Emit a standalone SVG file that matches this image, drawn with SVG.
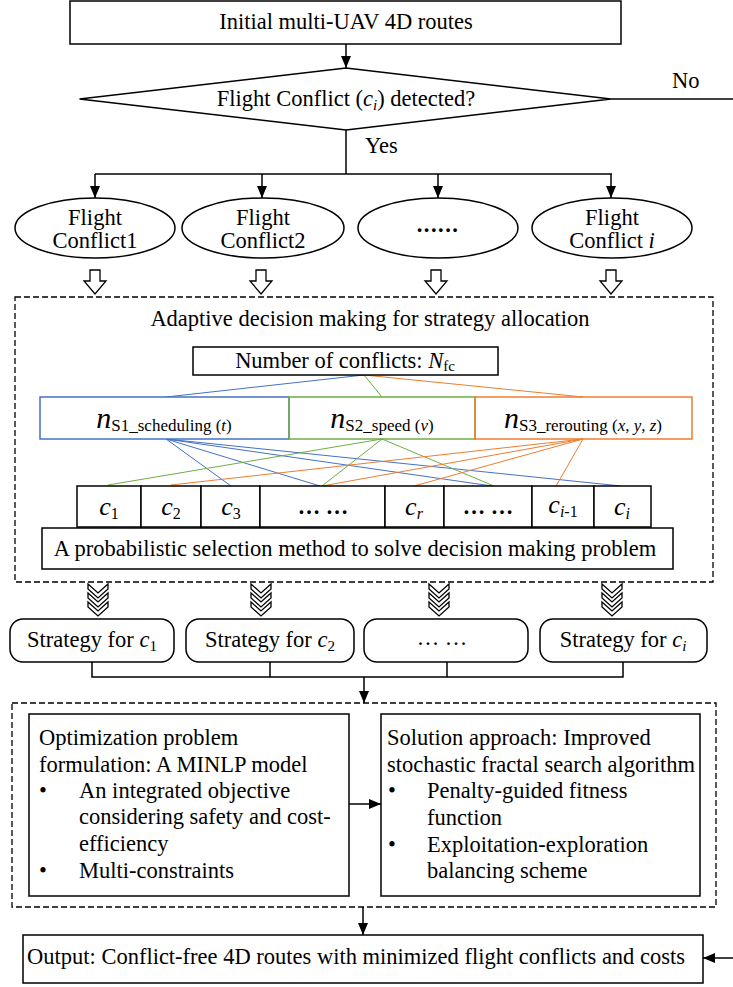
<svg xmlns="http://www.w3.org/2000/svg" width="733" height="987" viewBox="0 0 733 987">
<defs>
<style>
.t{font-family:"Liberation Serif","Times New Roman",serif;font-size:22.5px;fill:#000}
.box{fill:#fff;stroke:#000;stroke-width:1.5}
.ln{fill:none;stroke:#000;stroke-width:1.5}
.dash{fill:none;stroke:#000;stroke-width:1.3;stroke-dasharray:6 3}
.hol{fill:#fff;stroke:#000;stroke-width:1.3;stroke-linejoin:miter}
.b{stroke:#4472C4;stroke-width:1;fill:none}
.g{stroke:#70AD47;stroke-width:1;fill:none}
.o{stroke:#ED7D31;stroke-width:1;fill:none}
.i{font-style:italic}
</style>
<marker id="ah" markerWidth="12" markerHeight="10" viewBox="0 0 12 10" refX="12" refY="5" orient="auto" markerUnits="userSpaceOnUse"><path d="M0,0 L12,5 L0,10 Z" fill="#000"/></marker>
<g id="hollow"><path class="hol" d="M-5,0 H5 V11 H11 L0,24 L-11,11 H-5 Z"/></g>
<g id="chev"><path class="hol" d="M-10,0 L0,9 L10,0 L10,5 L0,14 L-10,5 Z"/></g>
</defs>
<rect width="733" height="987" fill="#fff"/>

<g id="connectors">
<line class="ln" x1="346" y1="44" x2="346" y2="68" marker-end="url(#ah)"/>
<line class="ln" x1="611" y1="99" x2="733" y2="99"/>
<line class="ln" x1="346" y1="130" x2="346" y2="174"/>
<line class="ln" x1="95" y1="174" x2="612" y2="174"/>
<line class="ln" x1="95" y1="174" x2="95" y2="198" marker-end="url(#ah)"/>
<line class="ln" x1="262" y1="174" x2="262" y2="198" marker-end="url(#ah)"/>
<line class="ln" x1="438" y1="174" x2="438" y2="198" marker-end="url(#ah)"/>
<line class="ln" x1="611" y1="174" x2="611" y2="198" marker-end="url(#ah)"/>
<use href="#hollow" x="95" y="270"/>
<use href="#hollow" x="261" y="270"/>
<use href="#hollow" x="436" y="270"/>
<use href="#hollow" x="611" y="270"/>
<line class="b" x1="364" y1="375" x2="166" y2="397"/>
<line class="g" x1="364" y1="375" x2="382" y2="397"/>
<line class="o" x1="364" y1="375" x2="583" y2="397"/>
<line class="b" x1="166" y1="439" x2="231" y2="486"/>
<line class="b" x1="166" y1="439" x2="320" y2="486"/>
<line class="b" x1="166" y1="439" x2="492" y2="486"/>
<line class="b" x1="166" y1="439" x2="621" y2="486"/>
<line class="g" x1="382" y1="439" x2="108" y2="485"/>
<line class="g" x1="382" y1="439" x2="322" y2="486"/>
<line class="g" x1="382" y1="439" x2="494" y2="486"/>
<line class="o" x1="583" y1="439" x2="171" y2="485"/>
<line class="o" x1="583" y1="439" x2="322" y2="486"/>
<line class="o" x1="583" y1="439" x2="414" y2="486"/>
<line class="o" x1="583" y1="439" x2="556" y2="486"/>
<use href="#chev" x="98" y="584"/><use href="#chev" x="98" y="593"/><use href="#chev" x="98" y="602"/>
<use href="#chev" x="261" y="584"/><use href="#chev" x="261" y="593"/><use href="#chev" x="261" y="602"/>
<use href="#chev" x="439" y="584"/><use href="#chev" x="439" y="593"/><use href="#chev" x="439" y="602"/>
<use href="#chev" x="612" y="584"/><use href="#chev" x="612" y="593"/><use href="#chev" x="612" y="602"/>
<polyline class="ln" points="92,662 92,677 623,677 623,662"/>
<line class="ln" x1="270" y1="662" x2="270" y2="677"/>
<line class="ln" x1="447" y1="662" x2="447" y2="677"/>
<line class="ln" x1="364" y1="677" x2="364" y2="703" marker-end="url(#ah)"/>
<line class="ln" x1="349" y1="804" x2="381" y2="804" marker-end="url(#ah)"/>
<line class="ln" x1="363" y1="907" x2="363" y2="935" marker-end="url(#ah)"/>
<line class="ln" x1="733" y1="958" x2="703" y2="958" marker-end="url(#ah)"/>
</g>

<g id="start">
<rect class="box" x="70" y="1" width="551" height="43"/>
<text class="t" x="346" y="29" text-anchor="middle">Initial multi-UAV 4D routes</text>
</g>

<g id="decision">
<polygon class="box" points="79.5,99 346,68 611,99 346,130"/>
<text class="t" x="346" y="106" text-anchor="middle">Flight Conflict (<tspan class="i">c</tspan><tspan class="i" font-size="15" dy="4">i</tspan><tspan dy="-4">) detected?</tspan></text>
<text class="t" x="672" y="88">No</text>
<text class="t" x="365" y="153">Yes</text>
</g>

<g id="conflict1">
<ellipse class="box" cx="95" cy="228" rx="80" ry="30"/>
<text class="t" x="95" y="225" text-anchor="middle">Flight</text>
<text class="t" x="95" y="248" text-anchor="middle">Conflict1</text>
</g>
<g id="conflict2">
<ellipse class="box" cx="263" cy="228" rx="81" ry="30"/>
<text class="t" x="263" y="225" text-anchor="middle">Flight</text>
<text class="t" x="263" y="248" text-anchor="middle">Conflict2</text>
</g>
<g id="conflict-dots">
<ellipse class="box" cx="438" cy="228" rx="80" ry="30"/>
<text class="t" x="438" y="232" text-anchor="middle" font-weight="bold" letter-spacing="1.5">......</text>
</g>
<g id="conflict-i">
<ellipse class="box" cx="612" cy="228" rx="80" ry="30"/>
<text class="t" x="612" y="225" text-anchor="middle">Flight</text>
<text class="t" x="612" y="248" text-anchor="middle">Conflict <tspan class="i">i</tspan></text>
</g>

<g id="allocation">
<rect class="dash" x="15" y="297" width="698" height="285"/>
<text class="t" x="370" y="326" text-anchor="middle">Adaptive decision making for strategy allocation</text>
</g>

<g id="nfc">
<rect class="box" x="193" y="347" width="305" height="28"/>
<text class="t" x="345" y="368" text-anchor="middle">Number of conflicts: <tspan class="i">N</tspan><tspan font-size="15" dy="3">fc</tspan></text>
</g>

<g id="s1">
<rect x="40" y="397" width="249" height="42" fill="#fff" stroke="#4472C4" stroke-width="1.5"/>
<text class="t" x="164" y="428" text-anchor="middle"><tspan class="i" font-size="30">n</tspan><tspan font-size="17" dy="3">S1_scheduling (</tspan><tspan class="i" font-size="17">t</tspan><tspan font-size="17">)</tspan></text>
</g>
<g id="s2">
<rect x="289" y="397" width="186" height="42" fill="none" stroke="#70AD47" stroke-width="1.5"/>
<text class="t" x="382" y="428" text-anchor="middle"><tspan class="i" font-size="30">n</tspan><tspan font-size="17" dy="3">S2_speed (</tspan><tspan class="i" font-size="17">v</tspan><tspan font-size="17">)</tspan></text>
</g>
<g id="s3">
<rect x="475" y="397" width="217" height="42" fill="none" stroke="#ED7D31" stroke-width="1.5"/>
<text class="t" x="583" y="428" text-anchor="middle"><tspan class="i" font-size="30">n</tspan><tspan font-size="17" dy="3">S3_rerouting (</tspan><tspan class="i" font-size="17">x</tspan><tspan font-size="17">, </tspan><tspan class="i" font-size="17">y</tspan><tspan font-size="17">, </tspan><tspan class="i" font-size="17">z</tspan><tspan font-size="17">)</tspan></text>
</g>

<g id="cells">
<rect class="box" x="77" y="486" width="64" height="41"/>
<rect class="box" x="141" y="486" width="60" height="41"/>
<rect class="box" x="201" y="486" width="59" height="41"/>
<rect class="box" x="260" y="486" width="125" height="41"/>
<rect class="box" x="385" y="486" width="59" height="41"/>
<rect class="box" x="444" y="486" width="88" height="41"/>
<rect class="box" x="532" y="486" width="62" height="41"/>
<rect class="box" x="594" y="486" width="57" height="41"/>
<text class="t" x="109" y="515" text-anchor="middle"><tspan class="i" font-size="26">c</tspan><tspan font-size="16" dy="4">1</tspan></text>
<text class="t" x="171" y="515" text-anchor="middle"><tspan class="i" font-size="26">c</tspan><tspan font-size="16" dy="4">2</tspan></text>
<text class="t" x="231" y="515" text-anchor="middle"><tspan class="i" font-size="26">c</tspan><tspan font-size="16" dy="4">3</tspan></text>
<text class="t" x="323" y="514" text-anchor="middle" font-weight="bold">… …</text>
<text class="t" x="414" y="515" text-anchor="middle"><tspan class="i" font-size="26">c</tspan><tspan class="i" font-size="16" dy="4">r</tspan></text>
<text class="t" x="488" y="514" text-anchor="middle" font-weight="bold">… …</text>
<text class="t" x="563" y="513" text-anchor="middle"><tspan class="i" font-size="26">c</tspan><tspan class="i" font-size="16" dy="4">i</tspan><tspan font-size="16">-1</tspan></text>
<text class="t" x="622" y="515" text-anchor="middle"><tspan class="i" font-size="26">c</tspan><tspan class="i" font-size="16" dy="4">i</tspan></text>
</g>

<g id="probabilistic">
<rect class="box" x="42" y="528" width="631" height="41"/>
<text class="t" x="355" y="556" text-anchor="middle">A probabilistic selection method to solve decision making problem</text>
</g>

<g id="strategy1">
<rect class="box" x="10" y="619" width="164" height="43" rx="13"/>
<text class="t" x="92" y="647" text-anchor="middle">Strategy for <tspan class="i">c</tspan><tspan font-size="15" dy="4">1</tspan></text>
</g>
<g id="strategy2">
<rect class="box" x="186" y="619" width="168" height="43" rx="13"/>
<text class="t" x="270" y="647" text-anchor="middle">Strategy for <tspan class="i">c</tspan><tspan font-size="15" dy="4">2</tspan></text>
</g>
<g id="strategy-dots">
<rect class="box" x="364" y="619" width="164" height="43" rx="13"/>
<text class="t" x="442" y="645" text-anchor="middle">… …</text>
</g>
<g id="strategy-i">
<rect class="box" x="540" y="619" width="167" height="43" rx="13"/>
<text class="t" x="623" y="647" text-anchor="middle">Strategy for <tspan class="i">c</tspan><tspan class="i" font-size="15" dy="4">i</tspan></text>
</g>

<g id="optimization-group">
<rect class="dash" x="12" y="703" width="704" height="204"/>
</g>

<g id="formulation">
<rect class="box" x="29" y="714" width="320" height="182"/>
<text class="t" x="39" y="745">Optimization problem</text>
<text class="t" x="39" y="772">formulation: A MINLP model</text>
<text class="t" x="39" y="798">•</text>
<text class="t" x="79" y="798">An integrated objective</text>
<text class="t" x="79" y="824">considering safety and cost-</text>
<text class="t" x="79" y="851">efficiency</text>
<text class="t" x="39" y="878">•</text>
<text class="t" x="79" y="878">Multi-constraints</text>
</g>

<g id="solution">
<rect class="box" x="381" y="714" width="319" height="182"/>
<text class="t" x="387" y="745">Solution approach: Improved</text>
<text class="t" x="387" y="772">stochastic fractal search algorithm</text>
<text class="t" x="388" y="798">•</text>
<text class="t" x="427" y="798">Penalty-guided fitness</text>
<text class="t" x="427" y="825">function</text>
<text class="t" x="388" y="852">•</text>
<text class="t" x="427" y="852">Exploitation-exploration</text>
<text class="t" x="427" y="878">balancing scheme</text>
</g>

<g id="output">
<rect class="box" x="23" y="935" width="680" height="48"/>
<text class="t" x="356" y="964" text-anchor="middle">Output: Conflict-free 4D routes with minimized flight conflicts and costs</text>
</g>
</svg>
